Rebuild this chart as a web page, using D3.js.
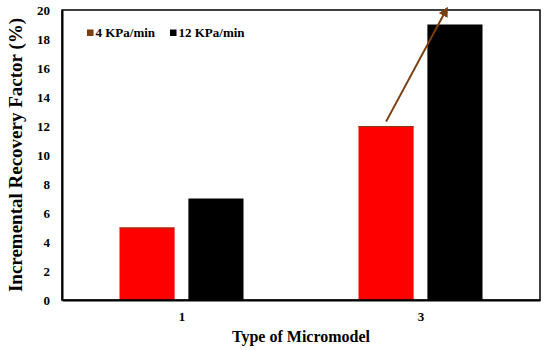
<!DOCTYPE html>
<html><head><meta charset="utf-8">
<script src="https://cdn.jsdelivr.net/npm/d3@7"></script>
<style>body{margin:0;background:#fff}svg{display:block}text{font-family:"Liberation Serif","Times New Roman",serif;font-weight:bold}</style>
</head><body>
<script>
const categories = ["1", "3"];
const seriesNames = ["4 KPa/min", "12 KPa/min"];
const values4 = [5, 12];
const values12 = [7, 19];
const yTicks = [0, 2, 4, 6, 8, 10, 12, 14, 16, 18, 20];
const seriesColors = ["#ff0000", "#000000"];
const legendColors = ["#7b3f10", "#000000"];

const W = 550, H = 350;
const m = {left: 62, right: 10, top: 10, bottom: 50};
const svg = d3.select("body").append("svg").attr("width", W).attr("height", H);

const x = d3.scalePoint().domain(categories).range([m.left, W - m.right]).padding(0.5);
const xs = d3.scaleBand().domain([0, 1]).range([-62, 62]).paddingInner(0.2);
const y = d3.scaleLinear().domain([0, 20]).range([H - m.bottom, m.top]);

const data = [];
categories.forEach((c, i) => {
  data.push({c, s: 0, v: values4[i]});
  data.push({c, s: 1, v: values12[i]});
});

svg.selectAll("rect.bar").data(data).join("rect")
  .attr("x", d => x(d.c) + xs(d.s))
  .attr("width", xs.bandwidth())
  .attr("y", d => y(d.v))
  .attr("height", d => y(0) - y(d.v))
  .attr("fill", d => seriesColors[d.s]);

svg.selectAll("line.top").data(data.filter(d => d.s === 0)).join("line")
  .attr("x1", d => x(d.c) + xs(d.s)).attr("x2", d => x(d.c) + xs(d.s) + xs.bandwidth())
  .attr("y1", d => y(d.v) + 0.5).attr("y2", d => y(d.v) + 0.5)
  .attr("stroke", "#8a3a10").attr("stroke-width", 1);

svg.append("rect").attr("x", m.left).attr("y", m.top)
  .attr("width", W - m.right - m.left).attr("height", H - m.bottom - m.top)
  .attr("fill", "none").attr("stroke", "#000").attr("stroke-width", 1.5);

const ya = svg.append("g").attr("transform", `translate(${m.left},0)`)
  .call(d3.axisLeft(y).tickValues(yTicks).tickSize(0).tickPadding(12));
ya.select(".domain").attr("stroke", "#000").attr("stroke-width", 2);
ya.selectAll("text").attr("font-size", 13).attr("fill", "#000")
  .style("font-family", "Liberation Serif").style("font-weight", "bold");

const xa = svg.append("g").attr("transform", `translate(0,${H - m.bottom})`)
  .call(d3.axisBottom(x).tickSize(0).tickPadding(12));
xa.select(".domain").attr("stroke", "#000").attr("stroke-width", 2);
xa.selectAll("text").attr("font-size", 13).attr("fill", "#000")
  .style("font-family", "Liberation Serif").style("font-weight", "bold");

svg.append("text").attr("x", (m.left + W - m.right) / 2).attr("y", 342)
  .attr("text-anchor", "middle").attr("font-size", 16).text("Type of Micromodel");
svg.append("text").attr("transform", `translate(22,${(m.top + H - m.bottom) / 2}) rotate(-90)`)
  .attr("text-anchor", "middle").attr("font-size", 19).text("Incremental Recovery Factor (%)");

const lg = svg.append("g");
const lx = [87, 170];
seriesNames.forEach((n, i) => {
  lg.append("rect").attr("x", lx[i]).attr("y", 29.5).attr("width", 6.5).attr("height", 6.5).attr("fill", legendColors[i]);
  lg.append("text").attr("x", lx[i] + 8.5).attr("y", 37).attr("font-size", 13).text(n);
});

const defs = svg.append("defs");
defs.append("marker").attr("id", "ah").attr("viewBox", "0 0 10 10").attr("refX", 8).attr("refY", 5)
  .attr("markerWidth", 5).attr("markerHeight", 5).attr("orient", "auto")
  .append("path").attr("d", "M0,0L10,5L0,10z").attr("fill", "#7b3f10");
const ax1 = x("3") + xs(0) + xs.bandwidth() / 2;
const ax2 = x("3") + xs(1) + xs.bandwidth() / 2 - 8;
svg.append("line").attr("x1", ax1).attr("y1", y(12.3)).attr("x2", ax2).attr("y2", y(20.1))
  .attr("stroke", "#7b3f10").attr("stroke-width", 2).attr("marker-end", "url(#ah)");
</script>
</body></html>
